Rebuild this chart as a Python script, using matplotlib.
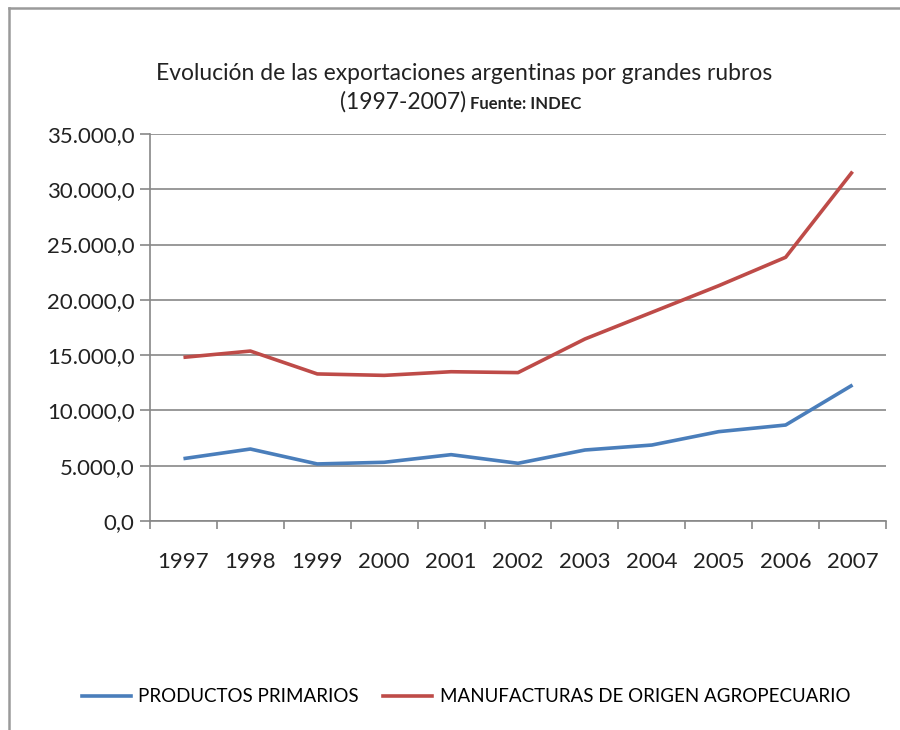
import matplotlib
matplotlib.use("Agg")
import matplotlib.pyplot as plt
from matplotlib.lines import Line2D
from matplotlib.ticker import FuncFormatter, FixedLocator
import numpy as np

years = [1997, 1998, 1999, 2000, 2001, 2002, 2003, 2004, 2005, 2006, 2007]
primarios = [5640, 6510, 5160, 5310, 6000, 5220, 6420, 6870, 8080, 8680, 12300]
moa = [14800, 15370, 13300, 13170, 13500, 13420, 16460, 18870, 21280, 23850, 31600]

names = ["PRODUCTOS PRIMARIOS", "MANUFACTURAS DE ORIGEN AGROPECUARIO"]
colors = ["#4A7EBB", "#BE4B48"]
grid_col = "#878787"

plt.rcParams['font.family'] = ['Lato', 'DejaVu Sans']

W, H = 900, 730
fig = plt.figure(figsize=(9, 7.3), dpi=100)
ax = fig.add_axes([150 / W, 1 - 521 / H, (886 - 150) / W, (521 - 134) / H])

x = np.arange(len(years))
ax.plot(x, primarios, color=colors[0], lw=2.6, solid_capstyle='butt')
ax.plot(x, moa, color=colors[1], lw=2.6, solid_capstyle='butt')

ax.set_xlim(-0.5, len(years) - 0.5)
ax.set_ylim(0, 35000)
ax.set_yticks(np.arange(0, 35001, 5000))
ax.yaxis.set_major_formatter(FuncFormatter(
    lambda v, p: "{:,.1f}".format(v).replace(",", "X").replace(".", ",").replace("X", ".")))
ax.set_xticks(x)
ax.set_xticklabels([str(y) for y in years])
ax.xaxis.set_minor_locator(FixedLocator(np.arange(-0.5, len(years), 1)))
ax.tick_params(axis='x', which='major', length=0, pad=22, labelsize=16, colors='#222222')
ax.tick_params(axis='x', which='minor', length=6, width=1.2, color=grid_col)
ax.tick_params(axis='y', length=7, width=1.2, color=grid_col, labelsize=16,
               labelcolor='#222222', pad=4)

ax.grid(axis='y', color=grid_col, lw=1.2)
ax.set_axisbelow(True)
for s in ['top', 'right']:
    ax.spines[s].set_visible(False)
for s in ['left', 'bottom']:
    ax.spines[s].set_color(grid_col)
    ax.spines[s].set_linewidth(1.2)

# title
fig.text(464 / W, 1 - 73 / H, "Evolución de las exportaciones argentinas por grandes rubros",
         ha='center', va='center', fontsize=16.5, color='#222222')
fig.text(466 / W, 1 - 102 / H, "(1997-2007)", ha='right', va='center',
         fontsize=16.5, color='#222222')
fig.text(470 / W, 1 - 104 / H, "Fuente: INDEC", ha='left', va='center',
         fontsize=12, fontweight='bold', color='#222222')

# legend
handles = [Line2D([], [], color=c, lw=2.6) for c in colors]
fig.legend(handles, names, loc='center', bbox_to_anchor=(466 / W, 1 - 697 / H),
           ncol=2, frameon=False, fontsize=13.5, handlelength=2.6, handletextpad=0.4,
           columnspacing=1.3)

# outer chart border
fig.add_artist(Line2D([9 / W, 9 / W], [0, 1 - 8 / H], color='#9a9a9a', lw=1.8))
fig.add_artist(Line2D([9 / W, 1], [1 - 8 / H, 1 - 8 / H], color='#9a9a9a', lw=1.8))

fig.savefig("out.png", dpi=100)
